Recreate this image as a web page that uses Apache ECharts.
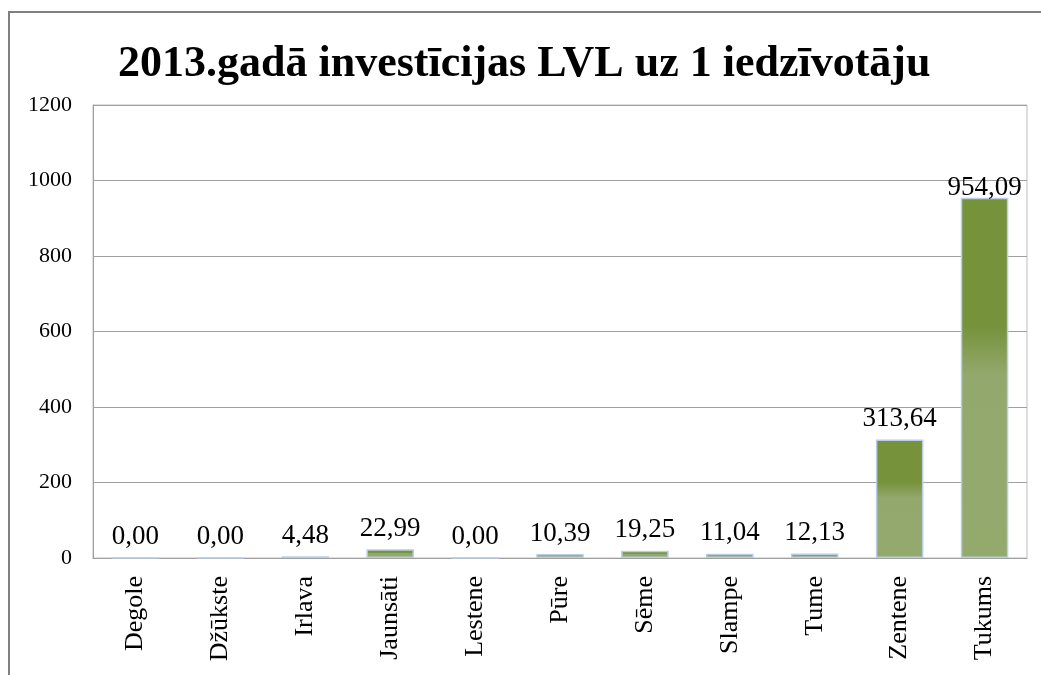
<!DOCTYPE html>
<html>
<head>
<meta charset="utf-8">
<script src="https://cdn.jsdelivr.net/npm/echarts@6/dist/echarts.min.js"></script>
<style>
  html, body { margin: 0; padding: 0; background: #fff; }
  #chart { width: 1041px; height: 675px; }
</style>
</head>
<body>
<div id="chart"></div>
<script>
// kategorijas un vērtības
const categories = ['Degole', 'Džūkste', 'Irlava', 'Jaunsāti', 'Lestene', 'Pūre', 'Sēme', 'Slampe', 'Tume', 'Zentene', 'Tukums'];
const values = [0, 0, 4.48, 22.99, 0, 10.39, 19.25, 11.04, 12.13, 313.64, 954.09];
const yTicks = [0, 200, 400, 600, 800, 1000, 1200];

(function () {
    let myChart = echarts.init(document.getElementById('chart'));
    const serif = '"Liberation Serif", "DejaVu Serif", serif';

    // lielākās vērtības uzraksts ir nedaudz zemāk (kā oriģinālā)
    const maxVal = Math.max.apply(null, values);
    const seriesData = values.map(function (v) {
        return v === maxVal ? { value: v, label: { distance: -4 } } : v;
    });

    let option = {
        animation: false,
        title: {
            text: '2013.gadā investīcijas LVL uz 1 iedzīvotāju',
            left: 113,
            top: 38,
            textStyle: {
                fontFamily: serif,
                fontSize: 44,
                fontWeight: 'bold',
                color: '#000'
            }
        },
        // ārējais rāmis
        graphic: [{
            type: 'rect',
            shape: { x: 9, y: 12, width: 1100, height: 700 },
            style: { fill: 'none', stroke: '#808080', lineWidth: 2 },
            silent: true
        }],
        grid: {
            left: 93,
            right: 14,
            top: 105,
            bottom: 117,
            containLabel: false,
            show: true,
            borderColor: '#bdbdbd',
            borderWidth: 1
        },
        xAxis: {
            type: 'category',
            data: categories,
            axisTick: { show: false },
            axisLine: { lineStyle: { color: '#a0a0a0', width: 1 } },
            axisLabel: {
                rotate: 90,
                interval: 0,
                margin: 18,
                fontFamily: serif,
                fontSize: 26,
                color: '#000'
            }
        },
        yAxis: {
            type: 'value',
            min: yTicks[0],
            max: yTicks[yTicks.length - 1],
            interval: 200,
            axisLine: { show: true, lineStyle: { color: '#a0a0a0' } },
            axisTick: { show: false },
            axisLabel: {
                margin: 21,
                fontFamily: serif,
                fontSize: 22,
                color: '#000',
                formatter: function (v) { return String(v); }
            },
            splitLine: { lineStyle: { color: '#a0a0a0', width: 1 } }
        },
        series: [{
            type: 'bar',
            data: seriesData,
            barWidth: '56%',
            itemStyle: {
                color: new echarts.graphic.LinearGradient(0, 0, 0, 1, [
                    { offset: 0, color: '#76933c' },
                    { offset: 0.36, color: '#76933c' },
                    { offset: 0.49, color: '#93a86c' },
                    { offset: 1, color: '#94a96c' }
                ]),
                borderColor: '#b9cde5',
                borderWidth: 1.5
            },
            label: {
                show: true,
                position: 'top',
                distance: 7,
                fontFamily: serif,
                fontSize: 27,
                color: '#000',
                formatter: function (p) {
                    return p.value.toFixed(2).replace('.', ',');
                }
            }
        }]
    };
    myChart.setOption(option);

    window.addEventListener('resize', function () {
        myChart.resize();
    });
})();
</script>
</body>
</html>
